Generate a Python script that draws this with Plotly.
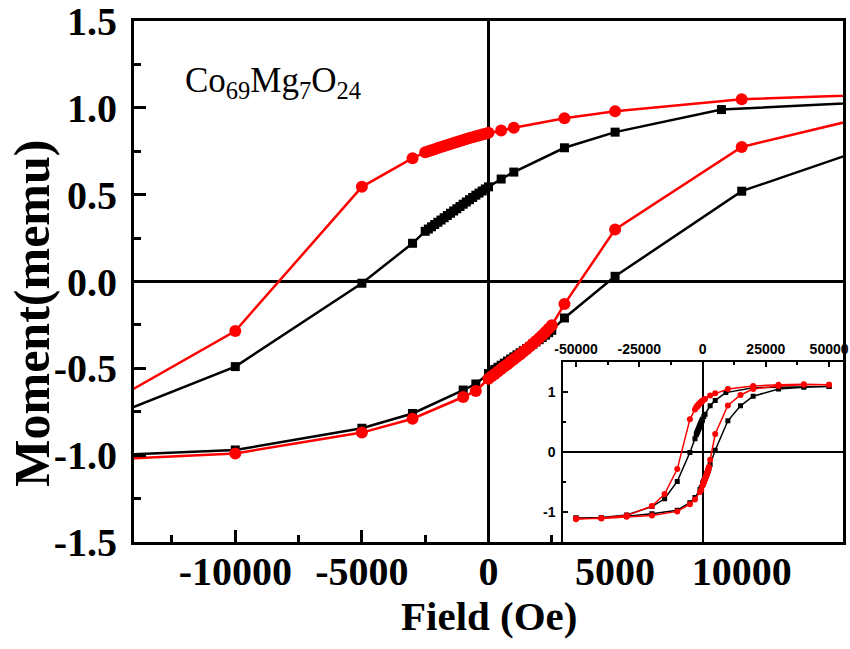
import plotly.graph_objects as go

# ---------------- data (Field in Oe, Moment in memu) ----------------
# black squares sample: descending branch (+H -> -H)
blk_desc_H = [50000, 40000, 30000, 20000, 9200, 5000, 3000, 1000, 500,
              0, -125, -250, -375, -500, -625, -750, -875, -1000, -1125, -1250,
              -1375, -1500, -1625, -1750, -1875, -2000, -2125, -2250, -2375, -2500,
              -3000, -5000, -10000, -15000, -20000, -30000, -40000, -50000]
blk_desc_M = [1.09, 1.09, 1.08, 1.07, 0.99, 0.86, 0.77, 0.63, 0.59,
              0.545, 0.533, 0.521, 0.509, 0.497, 0.484, 0.471, 0.458, 0.445, 0.432, 0.419,
              0.406, 0.393, 0.380, 0.367, 0.354, 0.341, 0.328, 0.315, 0.302, 0.289,
              0.22, -0.01, -0.49, -0.78, -0.91, -1.05, -1.09, -1.10]
# black squares sample: ascending branch (-H -> +H)
blk_asc_H = [-50000, -40000, -30000, -20000, -10000, -5000, -3000, -1000, -500,
             0, 125, 250, 375, 500, 625, 750, 875, 1000, 1125, 1250,
             1375, 1500, 1625, 1750, 1875, 2000, 2125, 2250, 2375, 2500,
             3000, 5000, 10000, 15000, 20000, 30000, 40000, 50000]
blk_asc_M = [-1.10, -1.10, -1.07, -1.03, -0.97, -0.845, -0.76, -0.625, -0.59,
             -0.530, -0.518, -0.506, -0.494, -0.482, -0.470, -0.458, -0.446, -0.434, -0.422, -0.410,
             -0.398, -0.386, -0.374, -0.361, -0.348, -0.335, -0.322, -0.309, -0.295, -0.281,
             -0.21, 0.03, 0.52, 0.77, 0.93, 1.05, 1.08, 1.09]

# red circles sample: descending branch
red_desc_H = [50000, 40000, 30000, 20000, 10000, 5000, 3000, 1000, 500,
              0, -125, -250, -375, -500, -625, -750, -875, -1000, -1125, -1250,
              -1375, -1500, -1625, -1750, -1875, -2000, -2125, -2250, -2375, -2500,
              -3000, -5000, -10000, -15000, -20000, -30000, -40000, -50000]
red_desc_M = [1.12, 1.13, 1.12, 1.10, 1.05, 0.98, 0.94, 0.885, 0.87,
              0.856, 0.851, 0.846, 0.841, 0.836, 0.831, 0.826, 0.820, 0.815, 0.809, 0.803,
              0.798, 0.792, 0.786, 0.780, 0.774, 0.768, 0.762, 0.756, 0.750, 0.744,
              0.71, 0.545, -0.285, -0.70, -0.90, -1.06, -1.10, -1.12]
# red circles sample: ascending branch
red_asc_H = [-50000, -40000, -30000, -20000, -10000, -5000, -3000, -1000, -500,
             0, 125, 250, 375, 500, 625, 750, 875, 1000, 1125, 1250,
             1375, 1500, 1625, 1750, 1875, 2000, 2125, 2250, 2375, 2500,
             3000, 5000, 10000, 15000, 20000, 30000, 40000, 50000]
red_asc_M = [-1.11, -1.11, -1.08, -1.06, -0.99, -0.87, -0.79, -0.665, -0.63,
             -0.560, -0.546, -0.532, -0.518, -0.504, -0.490, -0.476, -0.462, -0.448, -0.434, -0.420,
             -0.405, -0.390, -0.375, -0.359, -0.343, -0.326, -0.309, -0.291, -0.272, -0.252,
             -0.13, 0.30, 0.775, 0.95, 1.05, 1.10, 1.12, 1.12]

main_xticks = [-10000, -5000, 0, 5000, 10000]
main_yticks = [-1.5, -1.0, -0.5, 0.0, 0.5, 1.0, 1.5]
inset_xticks = [-50000, -25000, 0, 25000, 50000]
inset_yticks = [-1, 0, 1]

BLACK = "#000000"
RED = "#ff0000"
SERIF = "Liberation Serif"

blk_H = blk_desc_H + blk_asc_H
blk_M = blk_desc_M + blk_asc_M
red_H = red_desc_H + red_asc_H
red_M = red_desc_M + red_asc_M

fig = go.Figure()

# main plot
fig.add_trace(go.Scatter(x=blk_H, y=blk_M, mode="lines+markers",
                         line=dict(color=BLACK, width=2.5),
                         marker=dict(symbol="square", size=9, color=BLACK),
                         xaxis="x", yaxis="y", showlegend=False))
fig.add_trace(go.Scatter(x=red_H, y=red_M, mode="lines+markers",
                         line=dict(color=RED, width=2.5),
                         marker=dict(symbol="circle", size=12, color=RED),
                         xaxis="x", yaxis="y", showlegend=False))
# inset
fig.add_trace(go.Scatter(x=blk_H, y=blk_M, mode="lines+markers",
                         line=dict(color=BLACK, width=1.5),
                         marker=dict(symbol="square", size=5, color=BLACK),
                         xaxis="x2", yaxis="y2", showlegend=False))
fig.add_trace(go.Scatter(x=red_H, y=red_M, mode="lines+markers",
                         line=dict(color=RED, width=1.5),
                         marker=dict(symbol="circle", size=6, color=RED),
                         xaxis="x2", yaxis="y2", showlegend=False))

main_tickfont = dict(family=SERIF, size=40, color=BLACK, weight="bold")
inset_tickfont = dict(family="Liberation Sans", size=14, color=BLACK, weight="bold")

fig.update_layout(
    width=850, height=649,
    margin=dict(l=134, r=7, t=21, b=107, autoexpand=False),
    paper_bgcolor="white", plot_bgcolor="white",
    showlegend=False,
    xaxis=dict(domain=[0, 1], range=[-14000, 14000], automargin=False,
               tickvals=main_xticks, ticktext=[str(v) for v in main_xticks],
               ticks="inside", ticklen=12, tickwidth=2.5, tickcolor=BLACK,
               minor=dict(ticks="inside", ticklen=7, tickwidth=2.5, tickcolor=BLACK,
                          tickvals=[-12500, -7500, -2500, 2500, 7500, 12500]),
               showline=True, linewidth=3, linecolor=BLACK, mirror=True,
               showgrid=False, zeroline=True, zerolinecolor=BLACK, zerolinewidth=2.5,
               tickfont=main_tickfont, ticklabelstandoff=-8, ticklabeloverflow="allow"),
    yaxis=dict(domain=[0, 1], range=[-1.5, 1.5], automargin=False,
               tickvals=main_yticks, ticktext=["%.1f" % v for v in main_yticks],
               ticks="inside", ticklen=12, tickwidth=2.5, tickcolor=BLACK,
               minor=dict(ticks="inside", ticklen=7, tickwidth=2.5, tickcolor=BLACK,
                          tickvals=[-1.25, -0.75, -0.25, 0.25, 0.75, 1.25]),
               showline=True, linewidth=3, linecolor=BLACK, mirror=True,
               showgrid=False, zeroline=True, zerolinecolor=BLACK, zerolinewidth=2.5,
               tickfont=main_tickfont, ticklabelstandoff=6, ticklabeloverflow="allow"),
    xaxis2=dict(domain=[0.6056, 1.0], range=[-55000, 55500], anchor="y2", side="top",
                automargin=False, ticklabeloverflow="allow",
                tickvals=inset_xticks, ticktext=[str(v) for v in inset_xticks],
                ticks="inside", ticklen=5, tickwidth=1.5, tickcolor=BLACK,
                minor=dict(ticks="inside", ticklen=3, tickwidth=1.5, tickcolor=BLACK,
                           tickvals=[-37500, -12500, 12500, 37500]),
                showline=True, linewidth=2, linecolor=BLACK, mirror=True,
                showgrid=False, zeroline=True, zerolinecolor=BLACK, zerolinewidth=1.5,
                tickfont=inset_tickfont),
    yaxis2=dict(domain=[0.0, 0.3455], range=[-1.5, 1.5], anchor="x2", automargin=False,
                tickvals=inset_yticks, ticktext=[str(v) for v in inset_yticks],
                ticks="inside", ticklen=5, tickwidth=1.5, tickcolor=BLACK,
                minor=dict(ticks="inside", ticklen=3, tickwidth=1.5, tickcolor=BLACK,
                           tickvals=[-0.5, 0.5]),
                showline=True, linewidth=2, linecolor=BLACK, mirror=True,
                showgrid=False, zeroline=True, zerolinecolor=BLACK, zerolinewidth=1.5,
                tickfont=inset_tickfont, ticklabelstandoff=3),
    annotations=[
        dict(text="Field (Oe)", xref="paper", yref="paper", x=0.5, y=-0.142,
             xanchor="center", yanchor="middle", showarrow=False,
             font=dict(family=SERIF, size=41, color=BLACK, weight="bold")),
        dict(text="Moment(memu)", xref="paper", yref="paper", x=-0.144, y=0.44,
             xanchor="center", yanchor="middle", showarrow=False, textangle=-90,
             font=dict(family=SERIF, size=50, color=BLACK, weight="bold")),
        dict(text="Co<sub>69</sub>Mg<sub>7</sub>O<sub>24</sub>", xref="paper", yref="paper",
             x=(183 - 134) / 709, y=(542 - 82) / 521, xanchor="left", yanchor="middle",
             showarrow=False, font=dict(family=SERIF, size=35, color=BLACK)),
    ],
)

fig.write_html("out.html", config={"displayModeBar": False})

# remove the browser's default page margin so the figure sits at the window origin
with open("out.html", "r", encoding="utf-8") as f:
    html = f.read()
html = html.replace("<head>", "<head><style>html,body{margin:0;padding:0;overflow:hidden;}</style>", 1)
with open("out.html", "w", encoding="utf-8") as f:
    f.write(html)
